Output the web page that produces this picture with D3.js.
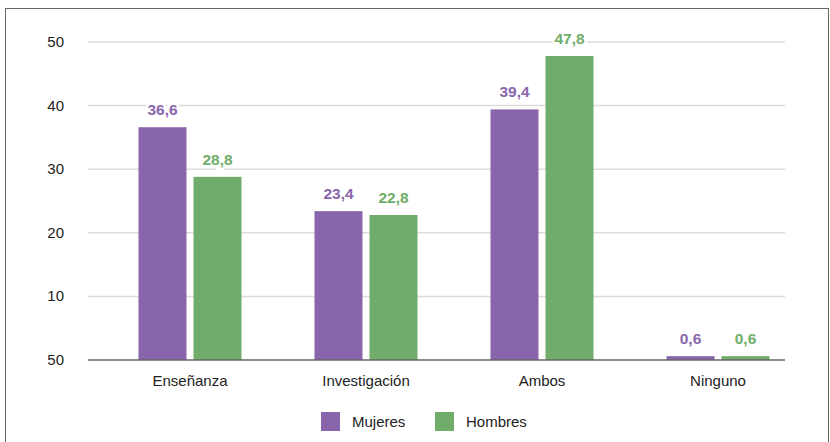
<!DOCTYPE html>
<html><head><meta charset="utf-8">
<script src="https://cdn.jsdelivr.net/npm/d3@7"></script>
<style>body{margin:0;background:#fff}svg{display:block}text{font-family:"Liberation Sans",Arial,sans-serif}</style>
</head><body>
<script>
const categories = ["Enseñanza", "Investigación", "Ambos", "Ninguno"];
const series = ["Mujeres", "Hombres"];
const mujeres = [36.6, 23.4, 39.4, 0.6];
const hombres = [28.8, 22.8, 47.8, 0.6];
const yTicks = [0, 10, 20, 30, 40, 50];
const yTickLabels = ["50", "10", "20", "30", "40", "50"];
const colors = ["#8966ab", "#70ad6a"];

const W = 830, H = 442;
const svg = d3.select("body").append("svg").attr("width", W).attr("height", H);

svg.append("rect").attr("x", 5.5).attr("y", 8.5).attr("width", W - 7).attr("height", H).attr("fill", "none").attr("stroke", "#666").attr("stroke-width", 1);

const gridX0 = 88, gridX1 = 785;
const y = d3.scaleLinear().domain([0, 50]).range([360, 42]);
const x0 = d3.scaleBand().domain(categories).range([102, 806]).padding(0);
const groupW = 103;
const x1 = d3.scaleBand().domain(series).range([0, groupW]).paddingInner(7 / 55);

svg.append("g").selectAll("line").data(yTicks.filter(d => d > 0)).join("line")
  .attr("x1", gridX0).attr("x2", gridX1).attr("y1", d => y(d)).attr("y2", d => y(d))
  .attr("stroke", "#dcdcdc").attr("stroke-width", 1.5);

svg.append("g").selectAll("text").data(yTicks).join("text")
  .attr("x", 64).attr("y", d => y(d) + 5).attr("text-anchor", "end")
  .attr("font-size", 15).attr("fill", "#222").text((d, i) => yTickLabels[i]);

const data = categories.map((c, i) => ({c, vals: [mujeres[i], hombres[i]]}));

const groups = svg.append("g").selectAll("g").data(data).join("g")
  .attr("transform", d => `translate(${x0(d.c) + x0.bandwidth() / 2 - groupW / 2},0)`);

groups.selectAll("rect").data(d => d.vals.map((v, i) => ({s: series[i], v, i}))).join("rect")
  .attr("x", d => x1(d.s)).attr("width", x1.bandwidth())
  .attr("y", d => y(d.v)).attr("height", d => y(0) - y(d.v))
  .attr("fill", d => colors[d.i]);

svg.append("line").attr("x1", gridX0).attr("x2", gridX1).attr("y1", y(0)).attr("y2", y(0))
  .attr("stroke", "#666").attr("stroke-width", 1.5);

groups.selectAll("text.v").data(d => d.vals.map((v, i) => ({s: series[i], v, i}))).join("text")
  .attr("class", "v")
  .attr("x", d => x1(d.s) + x1.bandwidth() / 2).attr("y", d => y(d.v) - 12)
  .attr("text-anchor", "middle").attr("font-size", 15.5).attr("font-weight", "bold")
  .attr("fill", d => colors[d.i])
  .attr("stroke", "#fff").attr("stroke-width", 5).attr("paint-order", "stroke")
  .text(d => d.v.toFixed(1).replace(".", ","));

svg.append("g").selectAll("text").data(categories).join("text")
  .attr("x", d => x0(d) + x0.bandwidth() / 2).attr("y", 386)
  .attr("text-anchor", "middle").attr("font-size", 15).attr("fill", "#222").text(d => d);

const legX = [321, 435];
const leg = svg.append("g").selectAll("g").data(series).join("g")
  .attr("transform", (d, i) => `translate(${legX[i]},412)`);
leg.append("rect").attr("width", 19).attr("height", 19).attr("fill", (d, i) => colors[i]);
leg.append("text").attr("x", 31).attr("y", 15).attr("font-size", 15).attr("fill", "#222").text(d => d);
</script>
</body></html>
